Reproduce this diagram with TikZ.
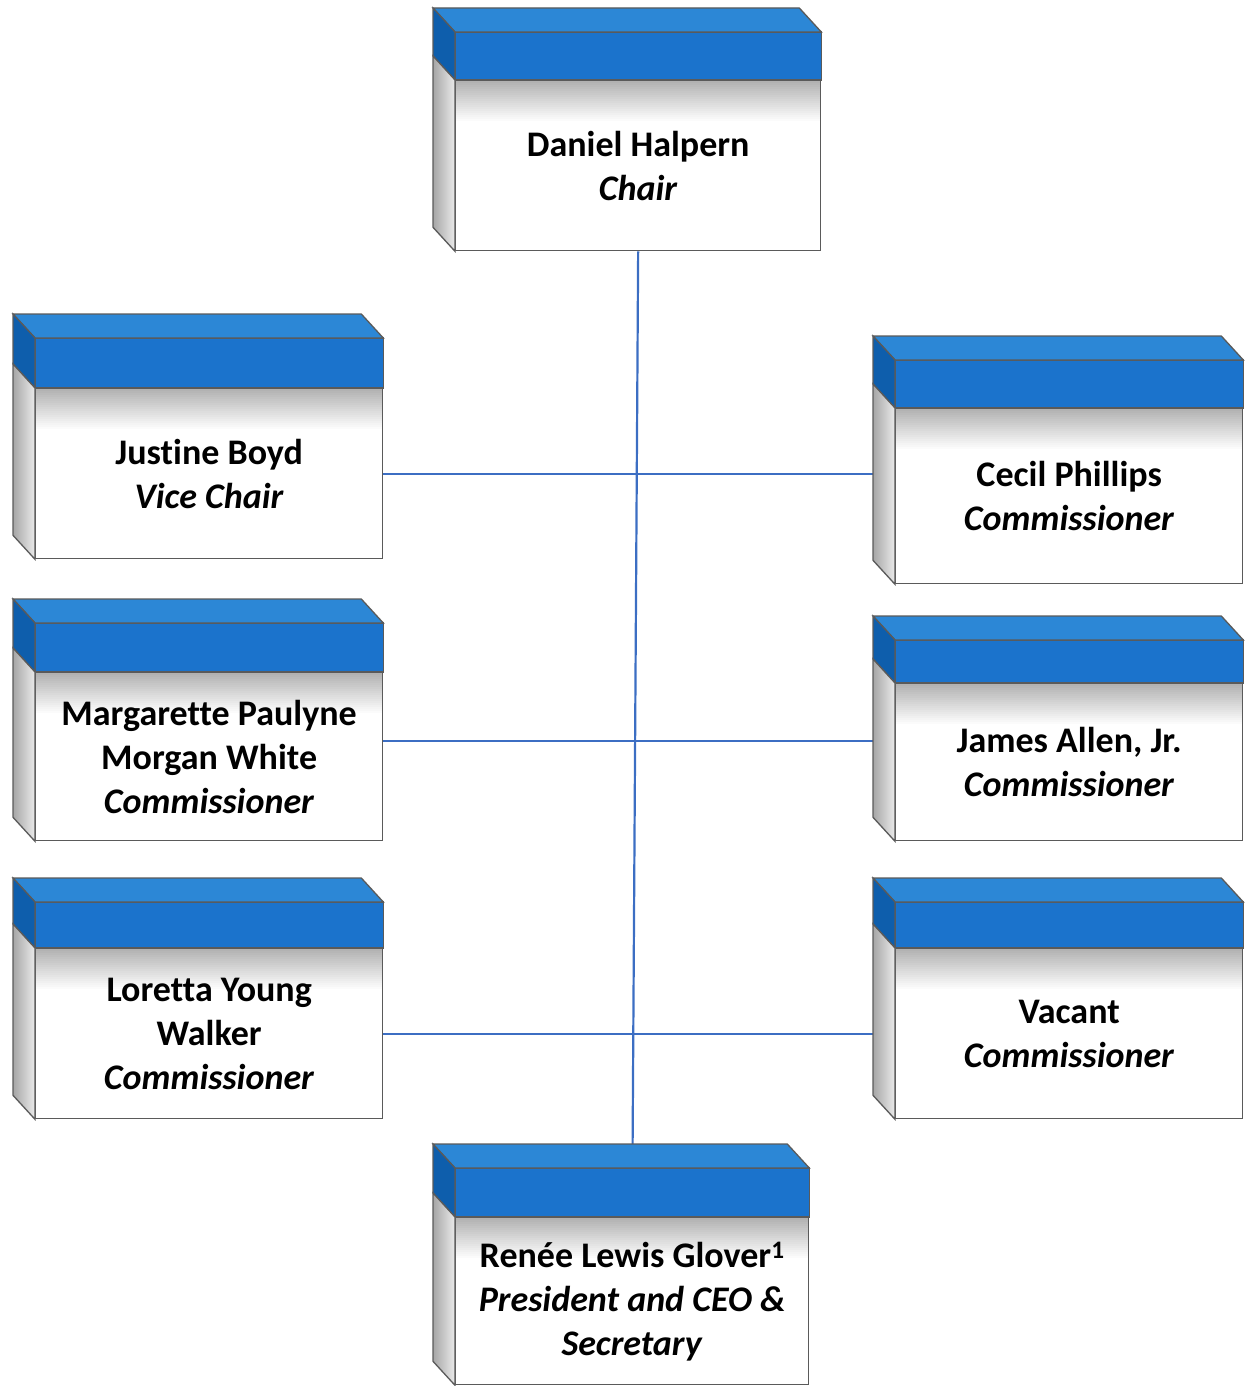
\documentclass[tikz,border=0pt]{standalone}
\usepackage{fontspec}
\setmainfont{Carlito}[Ligatures=CommonOff]
\usetikzlibrary{calc,backgrounds}

\definecolor{bandblue}{RGB}{27,115,204}
\definecolor{topblue}{RGB}{44,135,214}
\definecolor{sideblue}{RGB}{14,94,172}
\definecolor{linkblue}{RGB}{60,110,195}
\definecolor{edgegrey}{RGB}{90,90,90}

\tikzset{
  person/.style={draw=edgegrey, line width=1.3pt, fill=white, anchor=north west,
    align=center, inner sep=0pt, font=\fontsize{36}{44}\selectfont\bfseries,
    path picture={\foreach \i in {0,...,19}{%
        \pgfmathsetmacro\tone{30*(1-\i/20)}
        \fill[black!\tone] ([yshift=-\i*2pt]path picture bounding box.north west)
          rectangle ([yshift=-\i*2pt-2.5pt]path picture bounding box.north east);}}},
  bandfront/.style={draw=edgegrey, line width=1.3pt, fill=bandblue},
  topface/.style={draw=edgegrey, line width=1.3pt, fill=topblue},
  bandside/.style={draw=edgegrey, line width=1.3pt, fill=sideblue},
  greyside/.style={draw=edgegrey, line width=1.3pt, left color=black!35, right color=black!8},
  link/.style={draw=linkblue, line width=2.2pt}
}

\begin{document}
\begin{tikzpicture}[x=1pt, y=-1pt]
  \useasboundingbox (0,0) rectangle (1246,1386);
  \def\dx{22}
  \def\dy{24}
  % band, top and left side of a box: #1 node, #2 band height
  \def\drawsides#1#2{%
    \draw[bandfront] (#1.north west) rectangle ($(#1.north east)+(0,-#2)$);
    \draw[topface] ($(#1.north west)+(0,-#2)$) -- ($(#1.north east)+(0,-#2)$)
      -- ($(#1.north east)+(-\dx,-#2-\dy)$) -- ($(#1.north west)+(-\dx,-#2-\dy)$) -- cycle;
    \draw[bandside] ($(#1.north west)+(0,-#2)$) -- ($(#1.north west)+(-\dx,-#2-\dy)$)
      -- ($(#1.north west)+(-\dx,-\dy)$) -- (#1.north west) -- cycle;
    \draw[greyside] (#1.north west) -- ($(#1.north west)+(-\dx,-\dy)$)
      -- ($(#1.south west)+(-\dx,-\dy)$) -- (#1.south west) -- cycle;
  }

  % chair
  \node[person, minimum width=365pt, minimum height=170pt] (chair) at (455,80)
    {Daniel Halpern\\\textit{Chair}};
  \drawsides{chair}{48}

  % vice chair
  \node[person, minimum width=347pt, minimum height=170pt] (justine) at (35,388)
    {Justine Boyd\\\textit{Vice Chair}};
  \drawsides{justine}{50}

  % commissioners, left
  \node[person, minimum width=347pt, minimum height=168pt] (margarette) at (35,672)
    {Margarette Paulyne\\Morgan White\\\textit{Commissioner}};
  \drawsides{margarette}{49}

  \node[person, minimum width=347pt, minimum height=170pt] (loretta) at (35,948)
    {Loretta Young\\Walker\\\textit{Commissioner}};
  \drawsides{loretta}{46}

  % commissioners, right
  \node[person, minimum width=347pt, minimum height=175pt] (cecil) at (895,408)
    {Cecil Phillips\\\textit{Commissioner}};
  \drawsides{cecil}{48}

  \node[person, minimum width=347pt, minimum height=157pt] (james) at (895,683)
    {James Allen, Jr.\\\textit{Commissioner}};
  \drawsides{james}{43}

  \node[person, minimum width=347pt, minimum height=170pt] (vacant) at (895,948)
    {Vacant\\\textit{Commissioner}};
  \drawsides{vacant}{46}

  % president
  \node[person, minimum width=353pt, minimum height=167pt] (renee) at (455,1217)
    {Renée Lewis Glover\textsuperscript{1}\\\textit{President and CEO \&}\\\textit{Secretary}};
  \drawsides{renee}{49}

  % links behind the boxes
  \begin{scope}[on background layer]
    \draw[link] (chair.south) -- (renee.north);
    \draw[link] (justine.east) -- (justine.east -| cecil.west);
    \draw[link] ([yshift=16pt]margarette.east) -- ([yshift=16pt]margarette.east -| james.west);
    \draw[link] (loretta.east) -- (loretta.east -| vacant.west);
  \end{scope}
\end{tikzpicture}
\end{document}
